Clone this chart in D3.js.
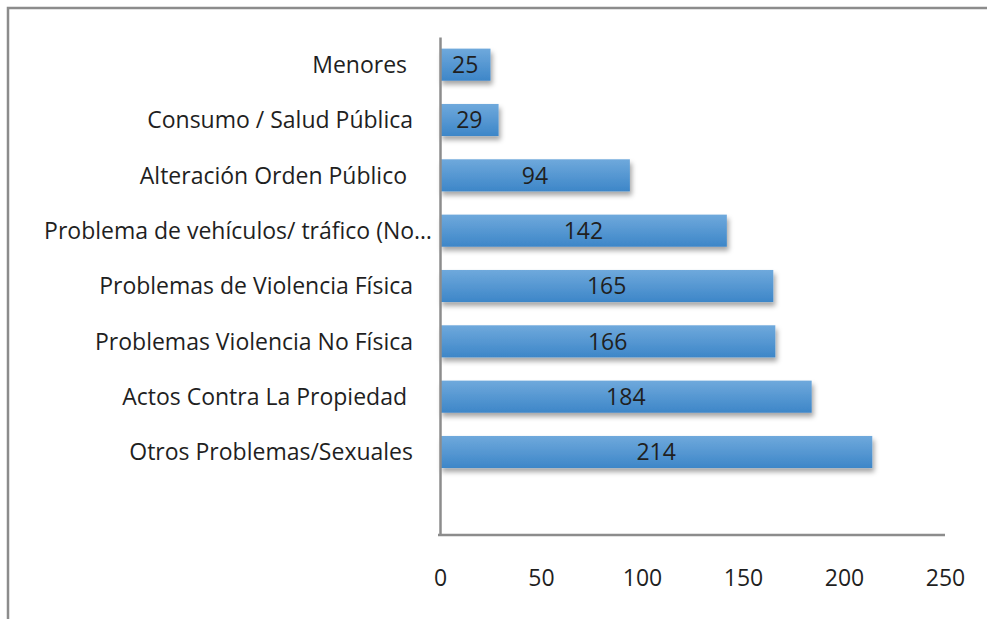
<!DOCTYPE html>
<html>
<head>
<meta charset="utf-8">
<script src="https://cdn.jsdelivr.net/npm/d3@7/dist/d3.min.js"></script>
<style>
  body { margin: 0; background: #fff; }
  svg text { font-family: "Open Sans", sans-serif; fill: #1f1f1f; white-space: pre; }
</style>
</head>
<body>
<svg id="chart"></svg>
<script>
var categories = [
    "Menores ",
    "Consumo / Salud Pública",
    "Alteración Orden Público ",
    "Problema de vehículos/ tráfico (No…",
    "Problemas de Violencia Física",
    "Problemas Violencia No Física",
    "Actos Contra La Propiedad ",
    "Otros Problemas/Sexuales"
];
var values = [25, 29, 94, 142, 165, 166, 184, 214];
var xTicks = [0, 50, 100, 150, 200, 250];

var width = 987, height = 619;
var fontSize = "23px";

var svg = d3.select("#chart")
    .attr("width", width)
    .attr("height", height);

var defs = svg.append("defs");

var grad = defs.append("linearGradient")
    .attr("id", "barGrad")
    .attr("x1", 0).attr("y1", 0)
    .attr("x2", 0).attr("y2", 1);
grad.append("stop").attr("offset", "0%").attr("stop-color", "#6fa9dc");
grad.append("stop").attr("offset", "100%").attr("stop-color", "#3d86c8");

var shadow = defs.append("filter")
    .attr("id", "shadow")
    .attr("x", "-10%").attr("y", "-30%")
    .attr("width", "130%").attr("height", "180%");
shadow.append("feDropShadow")
    .attr("dx", 2).attr("dy", 4)
    .attr("stdDeviation", 2.5)
    .attr("flood-color", "#000")
    .attr("flood-opacity", 0.35);

// chart frame
svg.append("rect")
    .attr("x", 8)
    .attr("y", 8)
    .attr("width", 1000)
    .attr("height", 700)
    .attr("fill", "none")
    .attr("stroke", "#8c8c8c")
    .attr("stroke-width", 2.5);

var x = d3.scaleLinear()
    .domain([0, 250])
    .range([440, 945]);

// one empty slot at the bottom, as in the original chart
var y = d3.scaleBand()
    .domain(categories.concat([""]))
    .range([37, 535])
    .paddingInner(0.42)
    .paddingOuter(0.21);

var bars = svg.append("g");

bars.selectAll(".bar")
    .data(values)
    .enter()
    .append("rect")
    .attr("class", "bar")
    .attr("x", x(0))
    .attr("y", function (d, i) { return y(categories[i]); })
    .attr("width", function (d) { return x(d) - x(0); })
    .attr("height", y.bandwidth())
    .attr("fill", "url(#barGrad)")
    .attr("filter", "url(#shadow)");

bars.selectAll(".val")
    .data(values)
    .enter()
    .append("text")
    .attr("class", "val")
    .attr("x", function (d) { return (x(d) + x(0)) / 2; })
    .attr("y", function (d, i) { return y(categories[i]) + y.bandwidth() / 2; })
    .attr("dy", "0.36em")
    .style("text-anchor", "middle")
    .style("font-size", fontSize)
    .text(function (d) { return d; });

// category labels
svg.selectAll(".cat")
    .data(categories)
    .enter()
    .append("text")
    .attr("class", "cat")
    .attr("x", function (d) { return d.slice(-1) === "…" ? 432 : 413; })
    .attr("y", function (d) { return y(d) + y.bandwidth() / 2; })
    .attr("dy", "0.36em")
    .style("text-anchor", "end")
    .style("font-size", fontSize)
    .text(function (d) { return d; });

/** Axis **/
var xAxis = svg.append("g")
    .attr("transform", "translate(0,535)")
    .call(d3.axisBottom(x).tickValues(xTicks).tickSize(0).tickPadding(35));
xAxis.select(".domain")
    .attr("stroke", "#8c8c8c")
    .attr("stroke-width", 2.5)
    .attr("d", "M" + (x(0) - 2) + ",0H" + x(250));
xAxis.selectAll("text")
    .attr("fill", "#1f1f1f")
    .style("font-family", "'Open Sans', sans-serif")
    .style("font-size", fontSize);

var yAxis = svg.append("g")
    .attr("transform", "translate(" + x(0) + ",0)")
    .call(d3.axisLeft(y).tickSize(0).tickFormat(""));
yAxis.select(".domain")
    .attr("stroke", "#8c8c8c")
    .attr("stroke-width", 2.5);
</script>
</body>
</html>
